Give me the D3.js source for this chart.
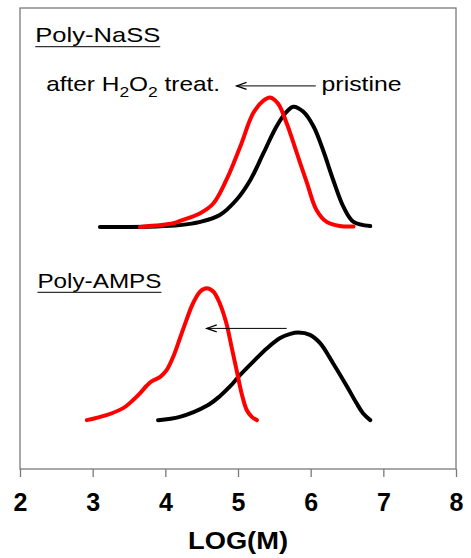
<!DOCTYPE html>
<meta charset="utf-8">
<html>
<head>
<style>
    body { margin: 0; background: #fff; }
    text { font-family: 'Liberation Sans', Arial, sans-serif; fill: #000; }
    .axis-title { font-size: 24px; font-weight: bold; }
    .note { font-size: 21px; }
</style>
</head>
<body>
<svg id="chart" width="471" height="558"></svg>
<script src="https://d3js.org/d3.v7.min.js"></script>
<script>
    // x = LOG(M), y = detector signal (arbitrary units, curves stacked with offsets)
    const nassPristine = [
        [3.10, 52.5], [3.88, 52.6], [4.20, 52.9], [4.48, 53.6], [4.75, 55.1], [4.98, 58.4],
        [5.17, 62.7], [5.35, 68.5], [5.53, 74.3], [5.67, 77.5], [5.76, 78.6], [5.90, 77.5],
        [6.04, 74.3], [6.17, 69.2], [6.31, 62.7], [6.45, 56.9], [6.59, 53.6], [6.82, 52.7]
    ];
    const nassTreated = [
        [3.65, 52.5], [4.11, 53.3], [4.20, 53.8], [4.48, 55.5], [4.66, 57.6], [4.84, 62.7],
        [5.03, 69.9], [5.21, 77.2], [5.35, 79.9], [5.44, 80.6], [5.55, 79.3], [5.67, 75.0],
        [5.81, 68.5], [5.95, 62.0], [6.08, 56.2], [6.22, 53.6], [6.40, 52.7], [6.59, 52.6]
    ];
    const ampsPristine = [
        [3.90, 10.6], [4.20, 11.3], [4.57, 13.7], [4.75, 15.8], [4.89, 17.9], [5.03, 20.4],
        [5.21, 23.3], [5.40, 26.2], [5.58, 28.4], [5.72, 29.3], [5.83, 29.6], [5.99, 29.1],
        [6.13, 27.3], [6.31, 22.9], [6.50, 17.9], [6.63, 14.3], [6.72, 12.1], [6.82, 10.6]
    ];
    const ampsTreated = [
        [2.92, 10.6], [3.19, 11.7], [3.42, 13.2], [3.56, 15.0], [3.65, 16.4], [3.74, 18.0],
        [3.81, 19.0], [3.93, 20.0], [4.02, 21.5], [4.11, 24.4], [4.20, 28.3], [4.29, 32.3],
        [4.38, 35.9], [4.48, 38.5], [4.57, 39.2], [4.66, 38.5], [4.75, 35.9], [4.84, 31.6],
        [4.91, 26.6], [4.98, 21.5], [5.05, 16.4], [5.12, 12.8], [5.19, 11.3], [5.26, 10.6]
    ];
    const xTicks = [2, 3, 4, 5, 6, 7, 8];

    // arrows: [x from, x to, y]
    const arrows = [[6.07, 4.98, 83.1], [5.67, 4.57, 30.5]];

    const svg = d3.select("#chart");
    const mLeft = 20, mRight = 456, mTop = 8, mBottom = 469;

    const x = d3.scaleLinear().domain([2, 8]).range([mLeft, mRight]);
    const y = d3.scaleLinear().domain([0, 100]).range([mBottom, mTop]);

    // frame
    svg.append("rect")
        .attr("x", mLeft).attr("y", mTop)
        .attr("width", mRight - mLeft).attr("height", mBottom - mTop)
        .attr("fill", "none").attr("stroke", "#7a7a7a").attr("stroke-width", 1.3);

    // x axis
    const xAxis = svg.append("g")
        .attr("transform", "translate(0," + mBottom + ")")
        .call(d3.axisBottom(x).tickValues(xTicks).tickSize(8).tickPadding(16).tickFormat(d3.format("d")));
    xAxis.select(".domain").remove();
    xAxis.selectAll(".tick line").attr("stroke", "#7a7a7a").attr("stroke-width", 1.3);
    xAxis.selectAll(".tick text")
        .style("font-family", "'Liberation Sans', Arial, sans-serif")
        .style("font-size", "25px")
        .style("font-weight", "bold")
        .attr("fill", "#000");

    svg.append("text")
        .attr("class", "axis-title")
        .attr("x", x(5) - 50).attr("y", 549)
        .attr("textLength", 100).attr("lengthAdjust", "spacingAndGlyphs")
        .text("LOG(M)");

    // curves
    const line = d3.line()
        .x(d => x(d[0]))
        .y(d => y(d[1]))
        .curve(d3.curveCatmullRom.alpha(0.5));

    const series = [
        { data: nassPristine, color: "#000" },
        { data: nassTreated, color: "#ff0000" },
        { data: ampsPristine, color: "#000" },
        { data: ampsTreated, color: "#ff0000" }
    ];
    svg.selectAll(".curve")
        .data(series)
        .join("path")
        .attr("class", "curve")
        .attr("d", d => line(d.data))
        .attr("fill", "none")
        .attr("stroke", d => d.color)
        .attr("stroke-width", 4)
        .attr("stroke-linecap", "round")
        .attr("stroke-linejoin", "round");

    // arrows
    arrows.forEach(a => {
        const x0 = x(a[0]), x1 = x(a[1]), yy = y(a[2]);
        svg.append("line")
            .attr("x1", x0).attr("x2", x1).attr("y1", yy).attr("y2", yy)
            .attr("stroke", "#000").attr("stroke-width", 1);
        svg.append("path")
            .attr("d", "M" + (x1 + 10) + "," + (yy - 3.5) + "L" + x1 + "," + yy + "L" + (x1 + 10) + "," + (yy + 3.5))
            .attr("fill", "none").attr("stroke", "#000").attr("stroke-width", 1.2);
    });

    // labels
    function underlined(txt, xv, yv, len) {
        svg.append("text")
            .attr("class", "note")
            .attr("x", x(xv)).attr("y", y(yv))
            .attr("textLength", len).attr("lengthAdjust", "spacingAndGlyphs")
            .text(txt);
        svg.append("line")
            .attr("x1", x(xv)).attr("x2", x(xv) + len)
            .attr("y1", y(yv) + 4.5).attr("y2", y(yv) + 4.5)
            .attr("stroke", "#333").attr("stroke-width", 1.4);
    }
    underlined("Poly-NaSS", 2.21, 92.6, 125);
    underlined("Poly-AMPS", 2.24, 39.3, 124);

    const treat = svg.append("text")
        .attr("class", "note")
        .attr("x", x(2.36)).attr("y", y(82.1));
    treat.append("tspan").text("after H");
    treat.append("tspan").attr("dy", 6).attr("font-size", 15).text("2");
    treat.append("tspan").attr("dy", -6).text("O");
    treat.append("tspan").attr("dy", 6).attr("font-size", 15).text("2");
    treat.append("tspan").attr("dy", -6).text(" treat.");
    treat.attr("textLength", 174).attr("lengthAdjust", "spacingAndGlyphs");

    svg.append("text")
        .attr("class", "note")
        .attr("x", x(6.15)).attr("y", y(82.1))
        .attr("textLength", 80).attr("lengthAdjust", "spacingAndGlyphs")
        .text("pristine");
</script>
</body>
</html>
